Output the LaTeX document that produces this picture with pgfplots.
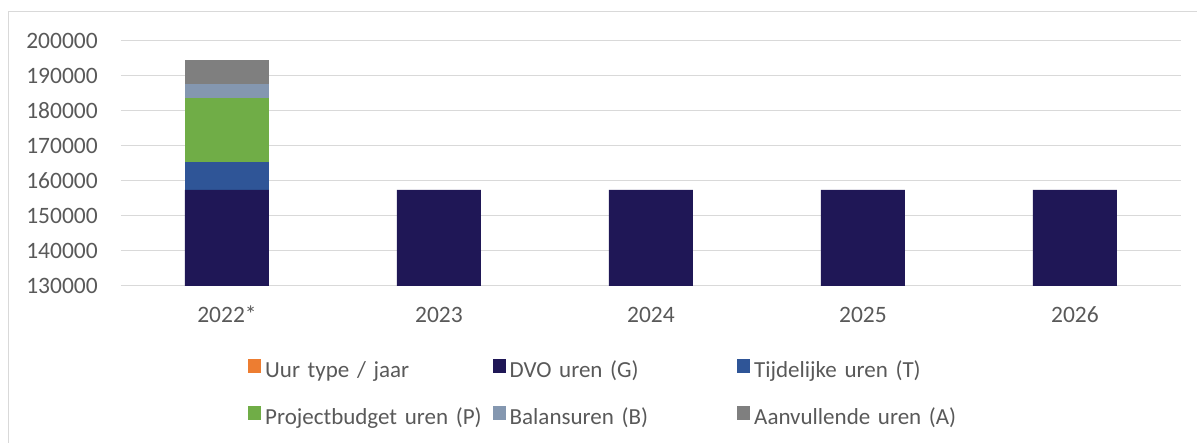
\documentclass[border=0pt]{standalone}
\usepackage{pgfplots}
\pgfplotsset{compat=1.18}
\usepackage{fontspec}
\setmainfont{Carlito}
\definecolor{txt}{HTML}{595959}
\definecolor{gridc}{HTML}{D9D9D9}
\definecolor{cU}{HTML}{ED7D31}
\definecolor{cG}{HTML}{1F1756}
\definecolor{cT}{HTML}{2F5597}
\definecolor{cP}{HTML}{70AD47}
\definecolor{cB}{HTML}{8497B0}
\definecolor{cA}{HTML}{7F7F7F}
\begin{document}
\begin{tikzpicture}[x=1pt,y=1pt]
\path[use as bounding box] (0,0) rectangle (1197,443);
\draw[gridc, line width=1pt] (8.3,0) -- (8.3,431.3) -- (1197,431.3);
\begin{axis}[
  at={(121pt,157.3pt)}, anchor=south west,
  scale only axis, width=1060pt, height=245pt,
  ybar stacked, bar width=84pt,
  xmin=-0.5, xmax=4.5, ymin=130000, ymax=200000,
  xtick=data, xticklabels={2022*,2023,2024,2025,2026},
  ytick={130000,140000,...,200000},
  scaled y ticks=false,
  /pgf/number format/assume math mode=true,
  yticklabel={\pgfmathprintnumber[fixed,1000 sep={}]{\tick}},
  axis line style={draw=none}, major tick length=0pt,
  ymajorgrids, grid style={gridc, line width=1.5pt},
  tick label style={font=\fontsize{23.5}{28}\selectfont, text=txt},
  yticklabel style={anchor=base east, inner sep=0pt, xshift=-23pt, yshift=-7.5pt},
  xticklabel style={anchor=base, inner sep=0pt, yshift=-37pt},
  legend columns=3,
  legend cell align=left,
  legend style={draw=none, fill=none, at={(0,0)}, anchor=north west,
    xshift=124pt, yshift=-71pt,
    font=\fontsize{23}{27}\selectfont, text=txt, row sep=23pt,
    nodes={inner sep=0pt, text height=15pt, text depth=5pt},
    /tikz/every even column/.append style={text width=227.5pt}},
  legend image code/.code={\fill[#1,draw=none] (0pt,0pt) rectangle (13pt,14pt); \path (17pt,0pt);},
  clip=true,
]
\addplot[fill=cU, draw=none] coordinates {(0,0) (1,0) (2,0) (3,0) (4,0)};
\addplot[fill=cG, draw=none] coordinates {(0,157350) (1,157350) (2,157350) (3,157350) (4,157350)};
\addplot[fill=cT, draw=none] coordinates {(0,8000) (1,0) (2,0) (3,0) (4,0)};
\addplot[fill=cP, draw=none] coordinates {(0,18300) (1,0) (2,0) (3,0) (4,0)};
\addplot[fill=cB, draw=none] coordinates {(0,4000) (1,0) (2,0) (3,0) (4,0)};
\addplot[fill=cA, draw=none] coordinates {(0,6850) (1,0) (2,0) (3,0) (4,0)};
\legend{Uur type / jaar, DVO uren (G), Tijdelijke uren (T), Projectbudget uren (P), Balansuren (B), Aanvullende uren (A)}
\draw[gridc, line width=1.5pt] (axis cs:-0.5,130000) -- (axis cs:4.5,130000);
\end{axis}
\end{tikzpicture}
\end{document}
